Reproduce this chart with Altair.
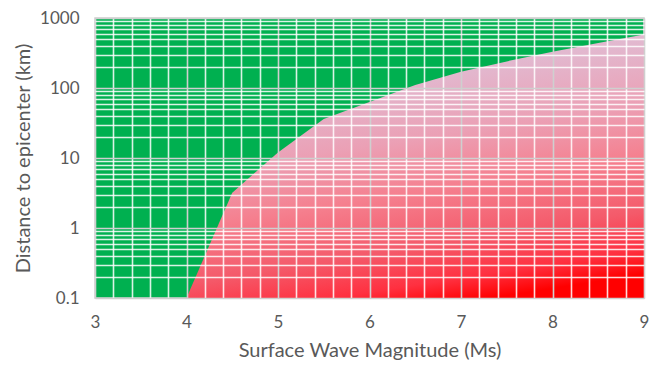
import altair as alt
import pandas as pd

# Boundary curve (Surface wave magnitude vs distance to epicenter)
magnitude = [4.0, 4.5, 5.0, 5.5, 6.0, 6.5, 7.0, 7.5, 8.0, 8.5, 9.0]
distance_km = [0.1, 3.2, 12, 36, 63, 110, 170, 240, 330, 440, 580]

# Axis ticks / grid
x_grid = [3.0, 3.2, 3.4, 3.6, 3.8, 4.0, 4.2, 4.4, 4.6, 4.8, 5.0, 5.2, 5.4, 5.6, 5.8,
          6.0, 6.2, 6.4, 6.6, 6.8, 7.0, 7.2, 7.4, 7.6, 7.8, 8.0, 8.2, 8.4, 8.6, 8.8, 9.0]
y_grid = [0.1, 0.2, 0.3, 0.4, 0.5, 0.6, 0.7, 0.8, 0.9,
          1, 2, 3, 4, 5, 6, 7, 8, 9,
          10, 20, 30, 40, 50, 60, 70, 80, 90,
          100, 200, 300, 400, 500, 600, 700, 800, 900, 1000]

df = pd.DataFrame({"mag": magnitude, "dist": distance_km})

FONT = "Lato"
TXT = "#595959"
W, H = 549, 280

x_test = "abs(datum.value - round(datum.value)) < 1e-6"
y_test = "abs(log(datum.value)/LN10 - round(log(datum.value)/LN10)) < 1e-6"
x_major = {"condition": {"test": x_test, "value": "#cfcfcf"}, "value": "#ffffff"}
y_major = {"condition": {"test": y_test, "value": "#cfcfcf"}, "value": "#ffffff"}
x_op = {"condition": {"test": x_test, "value": 1}, "value": 0.85}
y_op = {"condition": {"test": y_test, "value": 1}, "value": 0.85}

gradient = alt.LinearGradient(
    gradient="linear",
    x1=0, y1=0, x2=0.3, y2=1.1,
    stops=[
        alt.GradientStop(color="#dcc4dc", offset=0),
        alt.GradientStop(color="#e2b8cf", offset=0.25),
        alt.GradientStop(color="#eba0b5", offset=0.45),
        alt.GradientStop(color="#f5808f", offset=0.62),
        alt.GradientStop(color="#f45a6a", offset=0.8),
        alt.GradientStop(color="#ff3040", offset=0.92),
        alt.GradientStop(color="#ff0000", offset=1),
    ],
)

chart = alt.Chart(df).mark_area(color=gradient, interpolate="linear").encode(
    x=alt.X("mag:Q",
            scale=alt.Scale(domain=[3, 9], nice=False, zero=False),
            axis=alt.Axis(values=x_grid, title="Surface Wave Magnitude (Ms)",
                          labelExpr=x_test + " ? datum.label : ''",
                          format="~g", labelFlush=False,
                          grid=True, gridColor=x_major, gridOpacity=x_op, gridWidth=1.6,
                          ticks=False, domain=False, zindex=1,
                          labelPadding=16, titlePadding=10,
                          labelFont=FONT, labelFontSize=17, labelColor=TXT,
                          titleFont=FONT, titleFontSize=20, titleFontWeight="normal", titleColor=TXT)),
    y=alt.Y("dist:Q",
            scale=alt.Scale(type="log", domain=[0.1, 1000], nice=False),
            axis=alt.Axis(values=y_grid, title="Distance to epicenter (km)",
                          labelExpr=y_test + " ? datum.label : ''",
                          format="~g", labelFlush=False,
                          grid=True, gridColor=y_major, gridOpacity=y_op, gridWidth=1.6,
                          ticks=False, domain=False, zindex=1,
                          labelPadding=16,
                          titleX=-72, titleY=H / 2, titleAngle=270,
                          titleAlign="center", titleBaseline="middle",
                          labelFont=FONT, labelFontSize=17, labelColor=TXT,
                          titleFont=FONT, titleFontSize=20, titleFontWeight="normal", titleColor=TXT)),
    y2=alt.datum(0.1),
).properties(
    width=W, height=H,
    autosize=alt.AutoSizeParams(type="none"),
    padding={"left": 87, "top": 10, "right": 6, "bottom": 66},
).configure_view(fill="#00b050", stroke="#d0d0d0", strokeWidth=1.5)

chart.save("out.html", embed_options={"renderer": "svg", "actions": False})
